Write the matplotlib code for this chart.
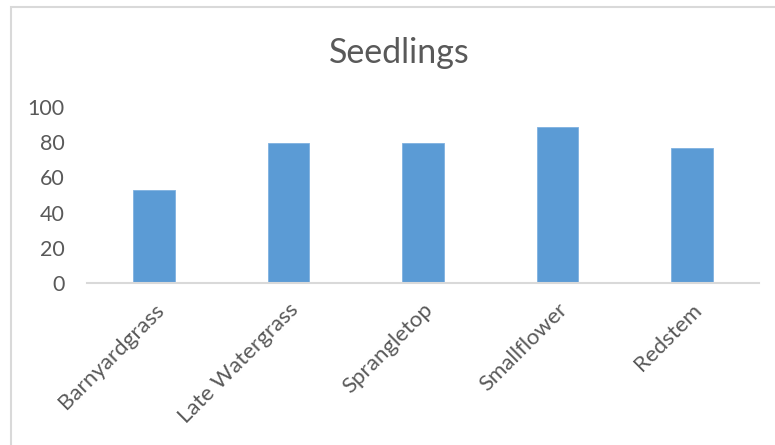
import matplotlib
matplotlib.use("Agg")
import matplotlib.pyplot as plt
from matplotlib.patches import Rectangle
from matplotlib.transforms import ScaledTranslation

species = ["Barnyardgrass", "Late Watergrass", "Sprangletop", "Smallflower", "Redstem"]
seedlings = [53, 79.5, 79.5, 88.5, 76.5]
yticks = [0, 20, 40, 60, 80, 100]

plt.rcParams['font.family'] = ['Lato', 'DejaVu Sans']
txt = '#595959'
grid = '#D9D9D9'

fig = plt.figure(figsize=(7.75, 4.45), dpi=100)
ax = fig.add_axes([87/775, 1-283/445, 672/775, 176/445])

x = range(len(species))
ax.bar(x, seedlings, width=0.31, color='#5B9BD5', edgecolor='#7FB1E0', linewidth=0.6)
ax.set_xlim(-0.5, 4.5)
ax.set_ylim(0, 100)
ax.set_yticks(yticks)
ax.set_yticklabels([str(v) for v in yticks], fontsize=15.5, color=txt)
ax.tick_params(axis='y', length=0, pad=16)
ax.tick_params(axis='x', length=0)
ax.set_xticks(list(x))
ax.set_xticklabels(species, fontsize=16, color=txt, rotation=45,
                   ha='right', va='center', rotation_mode='anchor')
shift = ScaledTranslation(7/100, -19/100, fig.dpi_scale_trans)
for lbl in ax.get_xticklabels():
    lbl.set_transform(lbl.get_transform() + shift)

for s in ['top', 'right', 'left']:
    ax.spines[s].set_visible(False)
ax.spines['bottom'].set_color(grid)
ax.spines['bottom'].set_linewidth(1.5)

fig.text(399/775, 1-53/445, "Seedlings", fontsize=24.5, color=txt, ha='center', va='center')

# chart area outline (runs off the right and bottom edges)
fig.patches.append(Rectangle((10.5/775, -0.1), 1.0, 1.1 - 7.5/445,
                             transform=fig.transFigure, fill=False,
                             edgecolor=grid, linewidth=1.5))

fig.savefig("out.png", dpi=100)
